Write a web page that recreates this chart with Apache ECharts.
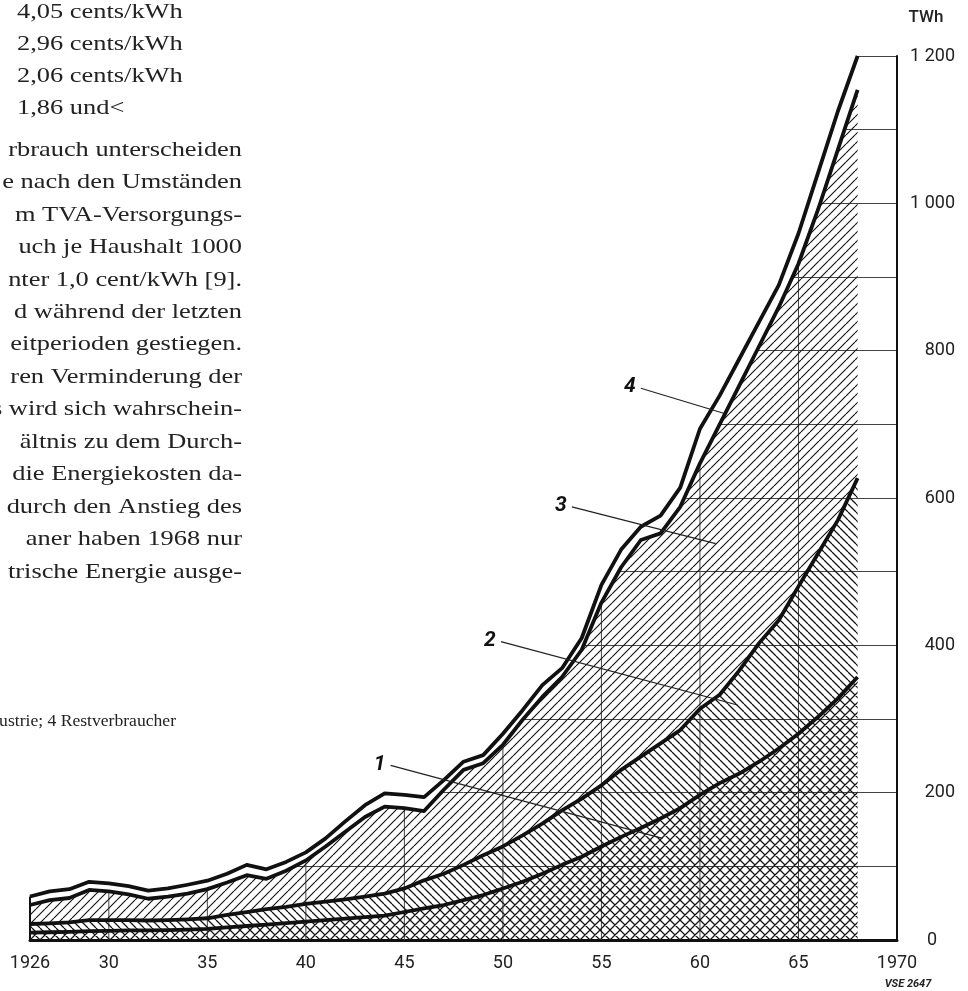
<!DOCTYPE html>
<html><head><meta charset="utf-8">
<script src="https://cdn.jsdelivr.net/npm/echarts@6/dist/echarts.min.js"></script>
<style>html,body{margin:0;padding:0;background:#fff}#c{width:968px;height:991px}</style>
</head><body><div id="c"></div>
<script>
// ---- data (TWh, cumulative curves) ----
const years = [1926,1927,1928,1929,1930,1931,1932,1933,1934,1935,1936,1937,1938,1939,1940,1941,1942,1943,1944,1945,1946,1947,1948,1949,1950,1951,1952,1953,1954,1955,1956,1957,1958,1959,1960,1961,1962,1963,1964,1965,1966,1967,1968];
const curve1 = [10,10.5,11,12,12.5,13,13,13.5,14,15,17,19,21,23,25,27,29,31,33,38,43,47.5,54,61,70,79,90,102,113,127,140,152,165,179,197,213,226,242,260,280,303,328,357];
const curve2 = [21.7,22.6,24,27,27,27,26.5,27,28,29.5,34,38,42,45,49,52,55,59,63,70,81,90,102,115,127,142,158,176,192,210,231,249,267,285,314,333,366,403,434,480,525,570,627];
const curve3 = [47.5,54,57,68,66,62,56,59,63,69,78,88,83,94,108,127,147,167,181,179,175,204,231,240,265,299,330,357,394,458,506,543,552,588,647,700,753,806,859,918,992,1073,1154];
const curve4 = [59,66,69,79,77,73,67,70,75,80.5,90,102,96,106,119,138,161,183,199,197,194,217,242,251,280,312,346,369,410,482,530,561,576,614,694,739,789,839,889,959,1042,1125,1200];

const xTickYears  = [1926,1930,1935,1940,1945,1950,1955,1960,1965,1970];
const xTickLabels = ['1926','30','35','40','45','50','55','60','65','1970'];
const gridYears   = [1930,1935,1940,1945,1950,1955,1960,1965];
const yTickValues = [0,200,400,600,800,1000,1200];
const yTickLabels = ['0','200','400','600','800','1 000','1 200'];
const yMax = 1200;

const curveLabels = ['1','2','3','4'];
const leaderFrom = [[1944.3,237],[1949.9,405],[1953.5,588],[1957.0,749]];
const leaderTo   = [[1958.1,138],[1961.9,319],[1960.8,538],[1961.2,715]];

const headLines = ['4,05 cents/kWh','2,96 cents/kWh','2,06 cents/kWh','1,86 und<'];
const bodyLines = ['rbrauch unterscheiden','e nach den Umständen','m TVA-Versorgungs-','uch je Haushalt 1000','nter 1,0 cent/kWh [9].','d während der letzten','eitperioden gestiegen.','ren Verminderung der','s wird sich wahrschein-','ältnis zu dem Durch-','die Energiekosten da-','durch den Anstieg des','aner haben 1968 nur','trische Energie ausge-'];
const captionText = 'ustrie; 4 Restverbraucher';

// ---- hatch patterns ----
function hatch(size, dirs, lw) {
  const c = document.createElement('canvas');
  c.width = size; c.height = size;
  const g = c.getContext('2d');
  g.strokeStyle = '#151515'; g.lineWidth = lw;
  g.beginPath();
  for (let k = -1; k <= 1; k++) {
    if (dirs.indexOf('/') >= 0) { g.moveTo(k*size, size); g.lineTo(k*size + size, 0); }
    if (dirs.indexOf('\\') >= 0) { g.moveTo(k*size, 0); g.lineTo(k*size + size, size); }
  }
  g.stroke();
  return c;
}
const crossPat = { image: hatch(10, '/\\', 1.25), repeat: 'repeat' };
const backPat  = { image: hatch(8, '\\', 1.25), repeat: 'repeat' };
const slashPat = { image: hatch(9, '/', 1.15), repeat: 'repeat' };

const zeros = years.map(() => 0);
const tops  = years.map(() => yMax);
const bands = [
  { lower: zeros,  upper: curve1, fill: crossPat },
  { lower: curve1, upper: curve2, fill: backPat },
  { lower: curve2, upper: curve3, fill: slashPat },
  { lower: curve3, upper: curve4, fill: '#ffffff' },
  { lower: curve4, upper: tops,   fill: '#ffffff' }
];

const series = [];
// vertical grid lines (under everything)
series.push({
  type: 'custom', z: 1, silent: true,
  encode: { x: 0, y: [1, 2] },
  data: gridYears.map(y => [y, 0, yMax]),
  renderItem: (params, api) => {
    const p0 = api.coord([api.value(0), api.value(1)]);
    const p1 = api.coord([api.value(0), api.value(2)]);
    return { type: 'line', shape: { x1: p0[0], y1: p0[1], x2: p1[0], y2: p1[1] }, style: { stroke: '#444', lineWidth: 1 } };
  }
});
// band polygons
series.push({
  type: 'custom', z: 10, silent: true,
  encode: { x: 0, y: 1 },
  data: bands.map(() => [years[0], 0]),
  renderItem: (params, api) => {
    const b = bands[params.dataIndex];
    const pts = [];
    for (let i = 0; i < years.length; i++) pts.push(api.coord([years[i], b.upper[i]]));
    for (let i = years.length - 1; i >= 0; i--) pts.push(api.coord([years[i], b.lower[i]]));
    return { type: 'polygon', shape: { points: pts }, style: { fill: b.fill, stroke: null } };
  }
});
[curve1, curve2, curve3, curve4].forEach(arr => {
  series.push({
    type: 'line', z: 20, silent: true, symbol: 'none',
    data: years.map((y,i) => [y, arr[i]]),
    lineStyle: { color: '#111', width: 3.8, join: 'round' }
  });
});
// left edge at first year
series.push({
  type: 'custom', z: 20, silent: true,
  encode: { x: 0, y: [1, 2] },
  data: [[years[0], 0, curve4[0]]],
  renderItem: (params, api) => {
    const p0 = api.coord([api.value(0), api.value(1)]);
    const p1 = api.coord([api.value(0), api.value(2)]);
    return { type: 'line', shape: { x1: p0[0], y1: p0[1], x2: p1[0], y2: p1[1] }, style: { stroke: '#111', lineWidth: 2 } };
  }
});
// leader lines with curve numbers
series.push({
  type: 'custom', z: 30, silent: true,
  encode: { x: [0, 2], y: [1, 3] },
  data: leaderFrom.map((f,i) => [f[0], f[1], leaderTo[i][0], leaderTo[i][1]]),
  renderItem: (params, api) => {
    const p0 = api.coord([api.value(0), api.value(1)]);
    const p1 = api.coord([api.value(2), api.value(3)]);
    return { type: 'group', children: [
      { type: 'line', shape: { x1: p0[0], y1: p0[1], x2: p1[0], y2: p1[1] }, style: { stroke: '#222', lineWidth: 1.2 } },
      { type: 'text', style: { text: curveLabels[params.dataIndex], x: p0[0] - 11, y: p0[1] - 1, fill: '#111',
        font: 'italic bold 21px Roboto', align: 'center', verticalAlign: 'middle', textAlign: 'center', textVerticalAlign: 'middle' } }
    ]};
  }
});

const serifFont = '22px "Liberation Serif", "Times New Roman", serif';
const graphics = [];
headLines.forEach((t, i) => {
  graphics.push({ type: 'text', x: 17, y: 12 + i * 32, scaleX: 1.2, z: 100,
    style: { text: t, font: serifFont, fill: '#222', align: 'left', textAlign: 'left', verticalAlign: 'middle', textVerticalAlign: 'middle' } });
});
bodyLines.forEach((t, i) => {
  graphics.push({ type: 'text', x: 242, y: 150 + i * 32.45, scaleX: 1.2, z: 100,
    style: { text: t, font: serifFont, fill: '#222', align: 'right', textAlign: 'right', verticalAlign: 'middle', textVerticalAlign: 'middle' } });
});
graphics.push({ type: 'text', x: 176, y: 722, scaleX: 1.1, z: 100,
  style: { text: captionText, font: '16px "Liberation Serif", serif', fill: '#222', align: 'right', textAlign: 'right', verticalAlign: 'middle', textVerticalAlign: 'middle' } });
graphics.push({ type: 'text', x: 926, y: 18, z: 100,
  style: { text: 'TWh', font: '500 17px Roboto', fill: '#222', align: 'center', textAlign: 'center', verticalAlign: 'middle', textVerticalAlign: 'middle' } });
graphics.push({ type: 'text', x: 908, y: 984, z: 100,
  style: { text: 'VSE 2647', font: 'italic bold 11px Roboto', fill: '#222', align: 'center', textAlign: 'center', verticalAlign: 'middle', textVerticalAlign: 'middle' } });

const chart = echarts.init(document.getElementById('c'), null, { renderer: 'canvas' });
chart.setOption({
  animation: false,
  backgroundColor: '#ffffff',
  grid: { left: 30, right: 71, top: 56, bottom: 51, containLabel: false, outerBoundsMode: 'none' },
  xAxis: {
    type: 'value', min: 1926, max: 1970, interval: 1,
    axisLine: { show: true, onZero: false, lineStyle: { color: '#111', width: 3 } },
    axisTick: { show: false },
    splitLine: { show: false },
    axisLabel: {
      margin: 14, fontFamily: 'Roboto', fontSize: 18, color: '#222', showMinLabel: true, showMaxLabel: true,
      formatter: v => { const i = xTickYears.indexOf(Math.round(v)); return i >= 0 ? xTickLabels[i] : ''; }
    }
  },
  yAxis: {
    type: 'value', position: 'right', min: 0, max: yMax, interval: 100,
    axisLine: { show: true, lineStyle: { color: '#111', width: 2 } },
    axisTick: { show: false },
    splitLine: { show: true, lineStyle: { color: '#444', width: 1 } },
    axisLabel: {
      margin: 58, align: 'right', fontFamily: 'Roboto', fontSize: 18, color: '#222',
      formatter: v => { const i = yTickValues.indexOf(Math.round(v)); if (i < 0) return ''; return i === 0 ? '{z|' + yTickLabels[i] + '}' : yTickLabels[i]; },
      rich: { z: { fontFamily: 'Roboto', fontSize: 18, color: '#222', padding: [0, 18, 0, 0] } }
    }
  },
  series: series,
  graphic: { elements: graphics }
});
</script></body></html>
